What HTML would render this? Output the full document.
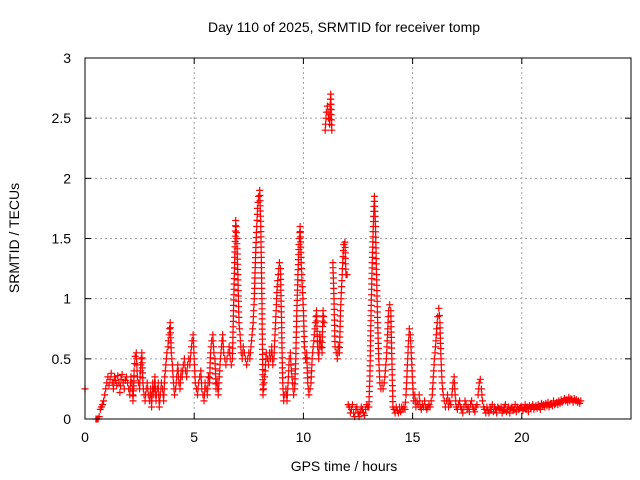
<!DOCTYPE html>
<html><head><meta charset="utf-8">
<style>
html,body{margin:0;padding:0;background:#fff;}
svg{display:block;font-family:"Liberation Sans",sans-serif;}
</style></head>
<body>
<svg id="chart" width="640" height="480" viewBox="0 0 640 480">
  <text x="344" y="32" text-anchor="middle" font-size="14" fill="#000">Day 110 of 2025, SRMTID for receiver tomp</text>
  <text transform="translate(19,238) rotate(-90)" text-anchor="middle" font-size="14" fill="#000">SRMTID / TECUs</text>
  <text x="344" y="471" text-anchor="middle" font-size="14" fill="#000">GPS time / hours</text>
  <g id="grid"></g>
  <g id="ticks"></g>
  <g id="points"></g>
  <rect x="85" y="58" width="546" height="361" fill="none" stroke="#000" stroke-width="1"/>
</svg>
<script>
const xTicks = [0, 5, 10, 15, 20];
const yTicks = [0, 0.5, 1, 1.5, 2, 2.5, 3];
const yTickLabels = ["0", "0.5", "1", "1.5", "2", "2.5", "3"];
const startHour = 0.5;
const stepHours = 0.05;
const extraTimes = [0.0];
const extraValues = [0.25];
const srmtidValues = [
 0,0,0,0.02,0.08,0.1,0.12,0.15,0.2,0.25,
 0.3,0.35,0.28,0.33,0.38,0.3,0.25,0.35,0.32,0.28,0.36,0.3,0.22,0.33,0.37,0.3,0.25,0.32,0.35,0.3,
 0.25,0.2,0.35,0.3,0.15,0.4,0.52,0.55,0.35,0.3,0.25,0.45,0.55,0.3,0.2,0.15,0.25,0.3,0.2,0.15,
 0.25,0.1,0.3,0.2,0.35,0.15,0.25,0.3,0.1,0.2,0.3,0.25,0.15,0.35,0.45,0.55,0.6,0.7,0.8,0.55,
 0.45,0.3,0.2,0.25,0.35,0.45,0.3,0.25,0.4,0.35,0.45,0.5,0.4,0.35,0.45,0.5,0.45,0.55,0.65,0.7,
 0.5,0.3,0.25,0.2,0.3,0.35,0.4,0.25,0.2,0.15,0.3,0.25,0.2,0.35,0.3,0.55,0.65,0.7,0.55,0.5,
 0.25,0.3,0.2,0.35,0.5,0.6,0.7,0.55,0.5,0.45,0.5,0.55,0.6,0.5,0.45,0.5,0.9,1.3,1.65,1.5,
 1.2,0.8,0.7,0.55,0.5,0.6,0.55,0.5,0.45,0.5,0.55,0.5,0.6,0.7,0.8,1.0,1.3,1.55,1.75,1.85,
 1.9,1.6,1.0,0.2,0.3,0.4,0.55,0.5,0.45,0.55,0.5,0.6,0.45,0.5,0.7,0.9,1.1,1.2,1.3,1.25,
 0.8,0.3,0.15,0.2,0.25,0.15,0.3,0.5,0.55,0.4,0.3,0.2,0.25,0.5,0.9,1.2,1.45,1.6,1.3,1.1,
 0.9,0.6,0.5,0.55,0.3,0.2,0.25,0.3,0.5,0.6,0.7,0.8,0.9,0.6,0.5,0.7,0.6,0.55,0.9,0.8,
 2.4,2.55,2.6,2.5,2.45,2.7,2.4,1.3,1.0,0.6,0.55,0.5,0.6,0.55,0.9,1.1,1.3,1.45,1.47,1.2,
 1.2,0.12,0.1,0.05,0.08,0.12,0.05,0.02,0.08,0.1,0.05,0.02,0.06,0.1,0.08,0.05,0.03,0.08,0.12,0.1,
 0.1,0.4,0.9,1.3,1.6,1.85,1.6,1.2,0.8,0.5,0.3,0.25,0.3,0.25,0.3,0.4,0.5,0.7,0.9,0.95,
 0.9,0.5,0.1,0.08,0.05,0.1,0.07,0.05,0.1,0.06,0.1,0.08,0.1,0.08,0.2,0.4,0.6,0.75,0.7,0.5,
 0.3,0.15,0.2,0.1,0.15,0.12,0.2,0.1,0.08,0.12,0.1,0.15,0.1,0.08,0.1,0.12,0.1,0.15,0.2,0.35,
 0.5,0.6,0.75,0.85,0.92,0.8,0.5,0.3,0.2,0.15,0.1,0.15,0.2,0.1,0.15,0.12,0.2,0.3,0.35,0.2,
 0.1,0.08,0.12,0.15,0.1,0.08,0.05,0.1,0.15,0.12,0.08,0.1,0.06,0.12,0.15,0.1,0.08,0.06,0.1,0.12,
 0.2,0.3,0.33,0.25,0.15,0.1,0.08,0.05,0.1,0.07,0.05,0.1,0.08,0.12,0.06,0.1,0.08,0.05,0.1,0.09,
 0.08,0.1,0.05,0.07,0.1,0.12,0.06,0.08,0.1,0.05,0.09,0.1,0.07,0.08,0.12,0.06,0.1,0.08,0.09,0.1,
 0.1,0.07,0.09,0.12,0.08,0.1,0.06,0.11,0.09,0.1,0.12,0.08,0.1,0.11,0.09,0.12,0.1,0.08,0.13,0.11,
 0.12,0.1,0.13,0.11,0.14,0.1,0.12,0.13,0.11,0.15,0.12,0.13,0.14,0.12,0.15,0.13,0.16,0.14,0.15,0.17,
 0.15,0.16,0.14,0.18,0.15,0.17,0.16,0.14,0.17,0.15,0.16,0.14,0.15,0.13,0.15
];

const X0 = 85, X1 = 631, Y0 = 419, Y1 = 58;
const xMin = 0, xMax = 25, yMin = 0, yMax = 3;
function xScale(v){ return X0 + (v - xMin) / (xMax - xMin) * (X1 - X0); }
function yScale(v){ return Y0 - (v - yMin) / (yMax - yMin) * (Y0 - Y1); }
const NS = "http://www.w3.org/2000/svg";
const grid = document.getElementById('grid');
const ticks = document.getElementById('ticks');
const pts = document.getElementById('points');
function mk(tag, attrs){ const e = document.createElementNS(NS, tag); for (const k in attrs) e.setAttribute(k, attrs[k]); return e; }

xTicks.forEach(function(t){
  const x = xScale(t);
  if (t > xMin) {
    const g = mk('line', {x1:x, x2:x, y1:Y0, y2:Y1, stroke:'#a0a0a0', 'stroke-dasharray':'2,3', 'stroke-width':1});
    
    
    grid.appendChild(g);
  }
  const tk = mk('line', {x1:x, x2:x, y1:Y0, y2:Y0-6, stroke:'#000'});
  
  
  ticks.appendChild(tk);
  const tk2 = mk('line', {x1:x, x2:x, y1:Y1, y2:Y1+6, stroke:'#000'});
  
  
  ticks.appendChild(tk2);
  const lb = mk('text', {x:x, y:Y0+23, 'text-anchor':'middle', 'font-size':14, fill:'#000'});
  lb.textContent = String(t);
  
  
  ticks.appendChild(lb);
});
yTicks.forEach(function(t, i){
  const y = yScale(t);
  if (t > yMin && t < yMax) {
    const g = mk('line', {x1:X0, x2:X1, y1:y, y2:y, stroke:'#a0a0a0', 'stroke-dasharray':'2,3', 'stroke-width':1});
    
    
    grid.appendChild(g);
  }
  const tk = mk('line', {x1:X0, x2:X0+6, y1:y, y2:y, stroke:'#000'});
  
  
  ticks.appendChild(tk);
  const tk2 = mk('line', {x1:X1, x2:X1-6, y1:y, y2:y, stroke:'#000'});
  
  
  ticks.appendChild(tk2);
  const lb = mk('text', {x:X0-14, y:y+5, 'text-anchor':'end', 'font-size':14, fill:'#000'});
  lb.textContent = yTickLabels[i];
  
  
  ticks.appendChild(lb);
});

let pathD = '';
function crossAt(x, y){
  pathD += 'M'+(x-3.5).toFixed(1)+' '+y.toFixed(1)+'h7M'+x.toFixed(1)+' '+(y-3.5).toFixed(1)+'v7';
}
extraTimes.forEach(function(t, i){ crossAt(xScale(t), yScale(extraValues[i])); });
srmtidValues.forEach(function(v, i){
  const x = xScale(startHour + i * stepHours), y = yScale(v);
  crossAt(x, y);
  if (i + 1 < srmtidValues.length && Math.abs(srmtidValues[i + 1] - v) <= 1.0) {
    const x2 = xScale(startHour + (i + 1) * stepHours), y2 = yScale(srmtidValues[i + 1]);
    const n = Math.floor(Math.abs(y2 - y) / 5);
    for (let k = 1; k < n; k++) {
      const f = k / n;
      crossAt(x + (x2 - x) * f, y + (y2 - y) * f);
    }
  }
});
const series = mk('path', {d:pathD, stroke:'#ff0000', 'stroke-width':1.2, fill:'none'});


pts.appendChild(series);
</script>
</body></html>
